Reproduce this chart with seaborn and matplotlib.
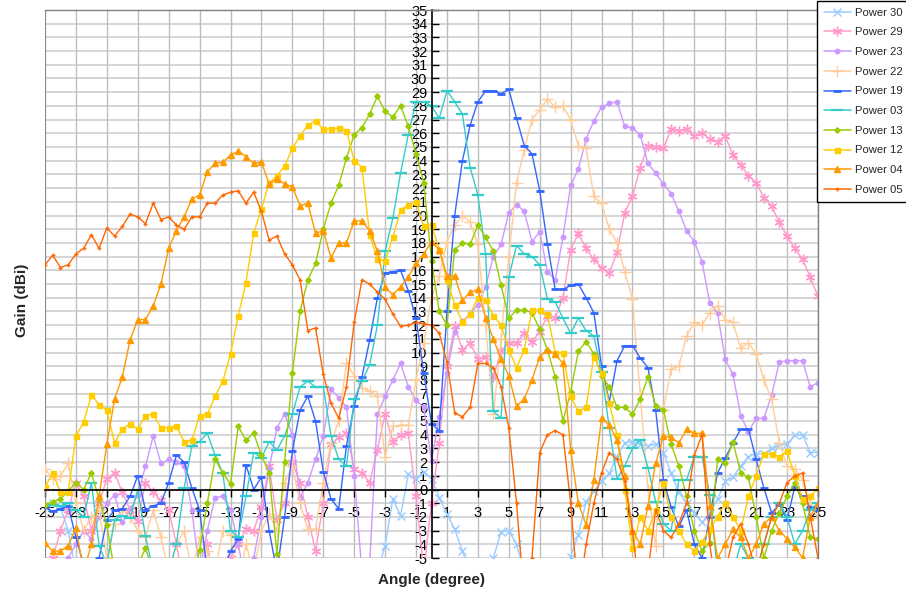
import numpy as np
import pandas as pd
import matplotlib
matplotlib.use("Agg")
import matplotlib.pyplot as plt
from matplotlib.lines import Line2D
import seaborn as sns

# ---------------- data ----------------
ANGLES = np.arange(-25, 25.01, 0.5)  # measurement angles (degree)

SERIES = ["Power 30", "Power 29", "Power 23", "Power 22", "Power 19",
          "Power 03", "Power 13", "Power 12", "Power 04", "Power 05"]

p30 = [-1.3, -1.0, -1.3, -3.0, -6, -8, -8, -8, -8, -8,
       -8, -8, -8, -8, -8, -8, -8, -8, -8, -8,
       -8, -8, -8, -8, -8, -8, -8, -8, -8, -8,
       -8, -8, -8, -8, -8, -8, -8, -8, -8, -8,
       -8, -8, -8, -6, -4.1, -0.7, -1.9, 1.1, 0.8, 1.3,
       0.8, -0.6, -1.8, -2.9, -4.5, -6, -8, -7, -5, -3.1,
       -3.0, -4.0, -6, -8, -8, -8, -7, -6, -4.9, -3.3,
       -0.9, -0.1, 0.6, 1.2, 2.4, 3.4, 3.5, 3.3, 3.2, 3.3,
       2.7, 1.2, -0.2, -1.0, -1.7, -2.4, -1.7, -0.7, 0.6, 0.9,
       1.7, 2.4, 2.6, 2.6, 3.0, 3.2, 3.3, 4.0, 4.0, 2.7,
       2.7]

p29 = [-6, -5, -3, -1.5, 0.5, -0.5, -3, -1, 0.8, 1.2,
       -0.2, -1.5, -2.3, 0.5, -0.2, -0.8, -1.5, -4, -7, -6,
       -7, -4, -7, -6, -5, -4, -2.9, -3.0, -1.3, 1.7,
       -2.2, -1, 2, 0.5, -2, -4.5, -1.0, 3.3, 3.8, 4.1,
       1.5, 1.2, 0.5, 2.9, 5.5, 3.5, 4.0, 4.1, -0.5, -6,
       -1.0, 3.4, 9.0, 11.9, 10.2, 10.7, 9.5, 9.7, 8.2, 10.1,
       10.7, 10.7, 11.4, 10.8, 11.5, 12.7, 12.5, 14.0, 17.5, 18.7,
       17.6, 16.8, 16.2, 15.8, 17.3, 20.2, 21.4, 23.5, 25.1, 25.0,
       24.9, 26.3, 26.2, 26.3, 25.8, 26.0, 25.6, 25.4, 25.8, 24.4,
       23.7, 22.9, 22.4, 21.3, 20.7, 19.5, 18.5, 17.6, 16.8, 15.5,
       14.1]

p23 = [-6, -7, -6, -5, -4, -3, -3.6, -2, -1, -0.4,
       -2.4, -1.5, -0.4, 1.7, 3.9, 1.9, 2.2, 2.0, 1.7, -1.5,
       -6, -3, -0.6, -0.5, -1.5, -4, -7, -5, -2, 1.5,
       4.5, 5.5, 4.0, -0.6, 0.5, 2.2, 3.9, 7.3, 6.7, 6.0,
       1.0, -6, -5.5, 5.5, 6.8, 8.0, 9.2, 7.5, 6.5, 6.0,
       2.1, 5.3, 8.5, 11.5, 12.3, 12.8, 13.5, 14.8, 17.0, 17.9,
       20.2, 20.8, 20.3, 18.1, 18.8, 15.9, 15.3, 18.4, 22.2, 23.4,
       25.6, 26.9, 27.9, 28.2, 28.3, 26.5, 26.4, 25.9, 23.8, 23.1,
       22.3, 21.6, 20.3, 18.9, 18.1, 16.6, 13.6, 12.9, 9.5, 8.4,
       5.4, 4.2, 5.2, 5.2, 6.9, 9.3, 9.4, 9.4, 9.4, 7.5,
       7.8]

p22 = [1.5, 0.8, 1.0, 1.9, -1, -3, -2, -1.5, -5, -2.5,
       -1.5, -2, -3, -3.5, -1.5, -3.5, -6, -4, -3, -6,
       -3.5, -4.5, -6, -3, -3.3, -7, -4, -6, -3, -1.8,
       -3, 0.5, 1.7, -1, -2.9, -2.9, 0.5, 3.4, 5.0, 9.2,
       8.3, 7.4, 7.2, 6.8, 2.4, 4.6, 4.7, 4.7, 8.0, 10.7,
       14.0, 15.6, 18.1, 19.3, 20.0, 19.5, 17.9, 12.0, 5.5, 11.0,
       17.0, 22.4, 24.8, 27.0, 27.7, 28.5, 27.9, 28.0, 27.0, 25.1,
       24.9, 21.4, 20.9, 19.0, 18.0, 15.9, 13.9, 7.0, 0.0, -4.1,
       5.8, 8.8, 9.0, 11.2, 12.2, 12.0, 12.9, 13.4, 12.4, 12.2,
       10.3, 10.7, 9.9, 8.0, 6.6, 3.4, 1.7, 1.5, 0.7, -1.0,
       -2.1]

p19 = [-1.3, -1.6, -1.4, -1.2, -3.5, -5.5, -7, -5, -2.2, -1.5,
       -1.4, -0.5, 1.0, -1.5, -1.2, -1.0, 0.5, 2.5, 2.0, 0.1,
       -1.5, -6, -8, -6, -4.5, -3.6, 1.8, 0.0, 0.9, -3,
       -6, -2, 2.8, 5.8, 6.8, 5.0, 1.3, -0.7, -1.4, 3.2,
       6.1, 8.2, 10.9, 14.0, 15.8, 15.9, 16.0, 14.5, 12.5, 8.5,
       4.8, 4.3, 13.0, 20.0, 24.0, 26.6, 28.3, 29.1, 29.1, 28.9,
       29.2, 27.1, 25.1, 24.5, 21.8, 17.9, 14.6, 14.6, 14.9, 15.0,
       14.0, 12.9, 9.0, 6.4, 9.4, 10.5, 10.5, 9.6, 8.9, 5.8,
       0.7, -1.3, -2.7, -1.5, -4, -5, -2, 1.2, 2.3, 3.4,
       4.4, 4.4, 2.2, 0.1, -1.7, -1.1, -2.2, 0.2, -0.5, -1.3,
       -1.5]

p03 = [-1.1, -1.1, -1.2, -1.0, -1.5, -2.0, 0.5, -4.1, -5.5, -2.2,
       -1.9, -2.1, 0.0, -3.4, -6, -6, -6, -4.0, 0.1, 3.2,
       3.5, 4.1, 2.5, 1.2, -3.0, -3.5, -0.5, 2.7, 2.3, 3.5,
       2.9, 3.9, 5.5, 7.5, 7.9, 7.5, 7.5, 3.9, 2.2, 1.7,
       6.6, 7.9, 9.1, 12.0, 17.4, 19.8, 23.1, 25.9, 28.3, 28.3,
       28.0, 27.1, 29.1, 28.3, 27.4, 23.5, 21.5, 17.2, 5.7, 5.2,
       15.5, 17.8, 17.2, 17.0, 16.4, 13.9, 13.7, 12.5, 11.4, 12.5,
       11.6, 11.2, 8.6, 4.5, 0.8, 1.7, 3.0, 3.6, 1.6, -0.9,
       -2.5, -3.0, 0.7, 0.7, 2.4, 2.4, -0.4, -6, -7, -6,
       -4, -5, -6, -4, -2, -1.0, -2, -4, -3, -1.5,
       -1.0]

p13 = [-1.1, -0.9, -0.7, -0.1, 0.5, 0.0, 1.2, -0.7, -2.6, -6,
       -8, -7, -5.5, -4.3, -6, -8, -8, -8, -8, -7,
       -4.4, -1, 2.2, 1.2, 0.4, 4.6, 3.6, 4.1, 2.5, 1.2,
       -4.7, 2.0, 8.5, 13.0, 15.3, 16.5, 19.0, 20.9, 22.2, 24.2,
       25.9, 26.4, 27.4, 28.7, 27.6, 27.2, 28.0, 26.5, 24.5, 22.4,
       16.7, 13.0, 12.0, 17.5, 18.0, 17.9, 19.3, 18.4, 17.4, 14.9,
       12.5, 13.1, 13.1, 12.9, 11.7, 10.2, 8.2, 5.0, 7.1, 10.1,
       10.8, 9.9, 8.3, 7.5, 6.0, 6.0, 5.5, 6.6, 8.2, 6.1,
       5.8, 3.3, 1.7, -0.5, -3, -4.5, -3.9, 2.2, 1.9, 3.5,
       1.2, 0.9, -2, -5, -3, -1.7, -0.5, 0.5, -1, -3.5,
       -3.6]

p12 = [0.2, 1.2, -0.2, -0.2, 3.9, 4.9, 6.9, 6.2, 5.8, 3.4,
       4.4, 4.8, 4.4, 5.4, 5.5, 4.5, 4.5, 4.6, 3.5, 3.6,
       5.4, 5.5, 6.8, 7.9, 9.9, 12.7, 15.1, 18.7, 20.5, 22.4,
       22.9, 23.6, 24.9, 25.8, 26.6, 26.9, 26.3, 26.3, 26.4, 26.2,
       24.0, 23.5, 18.6, 16.8, 16.7, 18.4, 20.4, 20.8, 21.0, 19.2,
       19.3, 17.5, 15.3, 13.5, 12.2, 12.8, 14.0, 13.8, 12.7, 12.0,
       10.2, 8.9, 10.2, 13.1, 13.1, 12.8, 10.0, 10.0, 6.8, 5.7,
       6.0, 9.7, 8.5, 6.3, 4.0, 0.0, -4.3, -2, -3, -1.5,
       0.5, -2, -3, -4, -4.5, -3.8, -2.9, -2, -1, -2,
       -3, -0.5, 1, 2.6, 2.6, 2.4, 2.8, 1.0, -0.7, -0.5,
       0.1]

p04 = [-3.9, -4.5, -4.5, -4.1, -2.8, -6, -4, -0.5, 3.3, 6.6,
       8.2, 10.9, 12.4, 12.4, 13.4, 15.0, 17.6, 18.9, 19.9, 21.2,
       21.5, 23.2, 23.8, 23.9, 24.4, 24.7, 24.3, 23.8, 23.9, 22.3,
       22.7, 22.3, 22.1, 20.7, 20.9, 18.7, 18.9, 16.9, 18.0, 18.0,
       19.6, 19.6, 18.9, 17.4, 14.8, 14.2, 14.8, 15.5, 16.5, 17.2,
       18.1, 17.5, 15.6, 15.6, 13.8, 14.4, 14.6, 12.5, 11.0, 9.5,
       8.3, 6.1, 6.6, 8.0, 9.7, 10.2, 9.9, 9.2, 2.9, -1,
       -2.6, 0.7, 5.2, 4.7, 3.6, 1.0, -3, -4, -1.2, 1.9,
       3.9, 3.8, 3.4, 4.4, 4.1, 4.1, -1.2, -5, -4, -2.9,
       -3.5, -5, -4, -2.5, -2, -3, -3.6, -4.2, -5, -2,
       -1]

p05 = [16.4, 17.1, 16.2, 16.4, 17.2, 17.6, 18.6, 17.6, 19.1, 18.5,
       19.2, 20.1, 19.9, 19.4, 20.9, 19.7, 19.9, 19.3, 19.0, 19.9,
       19.9, 20.9, 20.9, 21.5, 21.7, 21.8, 20.9, 21.7, 20.3, 18.2,
       18.5, 17.2, 16.4, 15.3, 11.6, 11.8, 8.4, 6.3, 5.2, 7.5,
       12.2, 15.3, 15.0, 14.4, 13.9, 12.8, 11.9, 12.0, 12.2, 12.1,
       12.0, 11.4, 9.3, 5.6, 5.3, 6.0, 9.2, 9.2, 8.9, 7.5,
       4.5, -1, -8, -5, 2.7, 4.0, 4.3, 4.0, -1, -8,
       -4, -1, 1.2, 2.7, 2.2, 0.6, -3, -8, -6, -1.5,
       -3.0, -3.5, -2.5, -1.0, 2.5, 4.0, -4, -8, -6, -3.5,
       -2.5, -4, -6, -4, -2, -1.0, 0.5, 1.0, 1.2, -2,
       -5]

VALUES = [p30, p29, p23, p22, p19, p03, p13, p12, p04, p05]

X_TICKS = list(range(-25, 26, 2))
Y_TICKS = list(range(-5, 36, 1))

COLORS = ["#99CCFF", "#FF99CC", "#CC99FF", "#FFCC99", "#3366FF",
          "#33CCCC", "#99CC00", "#FFCC00", "#FF9900", "#FF6600"]
MARKERS = ["x", (6, 2, 0), "o", "+", "_", "_", "D", "s", "^", "+"]
MSIZES = [5.5, 7, 3.2, 8, 6, 9, 2.8, 3.6, 4.4, 3.5]
MEWS = [1, 1, 1, 1, 2, 1.6, 1, 1, 1, 1]

df = pd.concat([pd.DataFrame({"angle": ANGLES, "gain": v, "series": s})
                for s, v in zip(SERIES, VALUES)], ignore_index=True)

# ---------------- figure ----------------
sns.set_theme(style="white")
plt.rcParams["font.family"] = ["Liberation Sans", "DejaVu Sans"]

W, H = 906, 596
fig = plt.figure(figsize=(W / 100, H / 100), dpi=100)
L, R, T, B = 45, 818, 10, 558
ax = fig.add_axes([L / W, 1 - B / H, (R - L) / W, (B - T) / H])
ax.set_xlim(-25, 25)
ax.set_ylim(-5, 35)

# grid
for y in Y_TICKS:
    ax.axhline(y, color="#D2D2D2", lw=1.3, zorder=0.5)
for x in X_TICKS:
    ax.axvline(x, color="#BDBDBD", lw=1.0, zorder=0.5)
ax.axvline(-25, color="#808080", lw=1.2, zorder=0.6)

for s, c, m, ms, mew in zip(SERIES, COLORS, MARKERS, MSIZES, MEWS):
    sub = df[df["series"] == s]
    sns.lineplot(data=sub, x="angle", y="gain", ax=ax, color=c, lw=1.0,
                 marker=m, markersize=ms, markeredgewidth=mew,
                 markeredgecolor=c, markerfacecolor=c,
                 estimator=None, sort=False, legend=False, zorder=2)

# axes crossing at the origin
ax.spines["left"].set_position(("data", 0))
ax.spines["bottom"].set_position(("data", 0))
for k in ("left", "bottom"):
    ax.spines[k].set_color("black")
    ax.spines[k].set_linewidth(1.2)
for k in ("right", "top"):
    ax.spines[k].set_color("#808080")
    ax.spines[k].set_linewidth(1.0)

ax.set_xticks(X_TICKS)
ax.set_yticks(Y_TICKS)
ax.set_xticklabels([str(t) for t in X_TICKS])
ax.set_yticklabels([str(t) for t in Y_TICKS])
ax.tick_params(axis="y", direction="in", length=5, width=1, color="black",
               labelsize=10.5, pad=3, left=True, labelcolor="black")
ax.tick_params(axis="x", direction="out", length=5, width=1, color="black",
               labelsize=10.5, pad=7, bottom=True, labelcolor="black")
ax.set_xlabel("")
ax.set_ylabel("")

fig.text(432 / W, 1 - 580 / H, "Angle (degree)", ha="center", va="center",
         fontsize=11, fontweight="bold")
fig.text(22 / W, 1 - 300 / H, "Gain (dBi)", ha="center", va="center",
         rotation=90, fontsize=11, fontweight="bold")

handles = [Line2D([0], [0], color=c, lw=1.1, marker=m, markersize=ms,
                  markeredgewidth=mew, markeredgecolor=c, markerfacecolor=c)
           for c, m, ms, mew in zip(COLORS, MARKERS, MSIZES, MEWS)]
leg = fig.legend(handles, SERIES, loc="upper left",
                 bbox_to_anchor=(817 / W, 1 - 1 / H), fontsize=8.1,
                 frameon=True, fancybox=False, edgecolor="black",
                 handlelength=2.4, handletextpad=0.35, labelspacing=0.86,
                 borderpad=0.6, borderaxespad=0.0, framealpha=1)
leg.get_frame().set_linewidth(1.0)

fig.savefig("out.png", dpi=100, facecolor="white")
